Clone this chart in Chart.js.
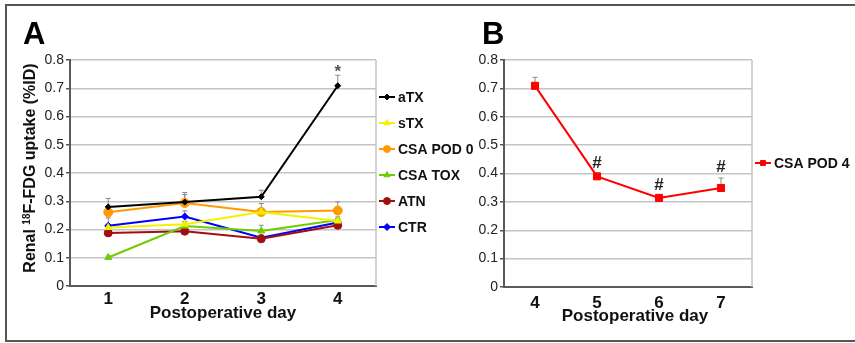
<!DOCTYPE html>
<html><head><meta charset="utf-8">
<script src="https://cdn.jsdelivr.net/npm/chart.js@4/dist/chart.umd.min.js"></script>
<style>
html,body{margin:0;padding:0;background:#fff;}
#wrap{position:relative;width:855px;height:343px;overflow:hidden;background:#fff;}
#frame{position:absolute;left:5px;top:4px;width:900px;height:338px;border:2px solid #555;box-sizing:border-box;}
canvas{position:absolute;left:0;top:0;}
</style></head>
<body>
<div id="wrap">
<div id="frame"></div>
<canvas id="cA" width="855" height="343"></canvas>
<canvas id="cB" width="855" height="343"></canvas>
</div>
<script>
// ---------- data ----------
const daysA = ['1','2','3','4'];
const daysB = ['4','5','6','7'];
const seriesNames = ['aTX','sTX','CSA POD 0','CSA TOX','ATN','CTR'];
const aTX     = [0.280, 0.297, 0.316, 0.709];
const sTX     = [0.207, 0.219, 0.262, 0.230];
const csaPod0 = [0.261, 0.294, 0.262, 0.267];
const csaTox  = [0.101, 0.212, 0.195, 0.234];
const atn     = [0.188, 0.194, 0.167, 0.215];
const ctr     = [0.213, 0.246, 0.171, 0.225];
const aTXErr     = [0.030, 0.034, 0.023, 0.037];
const sTXErr     = [0.010, 0.010, 0.010, 0.010];
const csaPod0Err = [0.020, 0.030, 0.030, 0.031];
const csaToxErr  = [0.005, 0.015, 0.020, 0.010];
const atnErr     = [0.010, 0.010, 0.010, 0.010];
const ctrErr     = [0.028, 0.020, 0.010, 0.010];
const marksA = ['', '', '', '*'];
const csaPod4    = [0.709, 0.390, 0.314, 0.349];
const csaPod4Err = [0.030, 0.010, 0.005, 0.035];
const marksB = ['', '#', '#', '#'];
const yTickStep = 0.1, yMin = 0, yMax = 0.8;

const FONT = 'Liberation Sans, Arial, Helvetica, sans-serif';
Chart.defaults.font.family = FONT;

function ds(label, data, err, color, style, r, marks){
  return {label, data, err, marks: marks||null, borderColor:color, backgroundColor:color,
    pointStyle:style, pointRadius:r, pointBorderWidth:1, borderWidth:2, tension:0, clip:false};
}

const errPlugin = {
  id:'errbars',
  beforeDatasetsDraw(chart){
    const ctx = chart.ctx, y = chart.scales.y;
    ctx.save();
    ctx.strokeStyle = '#8a8a8a'; ctx.lineWidth = 1;
    chart.data.datasets.forEach((d,i)=>{
      const meta = chart.getDatasetMeta(i);
      meta.data.forEach((pt,j)=>{
        const e = d.err[j]; if(!e) return;
        const yt = y.getPixelForValue(d.data[j]+e);
        ctx.beginPath();
        ctx.moveTo(pt.x, pt.y); ctx.lineTo(pt.x, yt);
        ctx.moveTo(pt.x-2.5, yt); ctx.lineTo(pt.x+2.5, yt);
        ctx.stroke();
      });
    });
    ctx.restore();
  },
  afterDatasetsDraw(chart){
    const ctx = chart.ctx, y = chart.scales.y;
    ctx.save();
    ctx.fillStyle = '#222'; ctx.textAlign='center'; ctx.textBaseline='alphabetic';
    chart.data.datasets.forEach((d,i)=>{
      if(!d.marks) return;
      const meta = chart.getDatasetMeta(i);
      meta.data.forEach((pt,j)=>{
        const m = d.marks[j]; if(!m) return;
        const yt = y.getPixelForValue(d.data[j]+d.err[j]);
        if(m==='*'){ ctx.font = 'bold 17px '+FONT; ctx.fillStyle='#555'; ctx.fillText(m, pt.x, yt+2); }
        else { ctx.font = 'bold 17px '+FONT; ctx.fillStyle='#222'; ctx.fillText(m, pt.x, yt-6); }
      });
    });
    ctx.restore();
  }
};

function decoPlugin(cfg){
  return {
    id:'deco'+cfg.letter,
    afterDraw(chart){
      const ctx = chart.ctx, a = chart.chartArea;
      ctx.save();
      // right border of plot
      ctx.strokeStyle = '#c4c4c4'; ctx.lineWidth = 1.5;
      ctx.beginPath(); ctx.moveTo(a.right, a.top); ctx.lineTo(a.right, a.bottom); ctx.stroke();
      // panel letter
      ctx.fillStyle = '#000'; ctx.font = 'bold 31px '+FONT; ctx.textAlign='left'; ctx.textBaseline='alphabetic';
      ctx.fillText(cfg.letter, cfg.letterX, 44);
      // x title
      ctx.font = 'bold 17px '+FONT; ctx.textAlign='center'; ctx.fillStyle='#111';
      ctx.fillText('Postoperative day', cfg.xTitleX, cfg.xTitleY);
      // y title
      if(cfg.yTitle){
        ctx.save();
        ctx.translate(31, 168); ctx.rotate(-Math.PI/2);
        ctx.textAlign='left'; ctx.textBaseline='middle';
        const big = 'bold 16px '+FONT, small = 'bold 10px '+FONT;
        const p1 = 'Renal ', p2 = '18', p3 = 'F-FDG uptake (%ID)';
        ctx.font = big; const w1 = ctx.measureText(p1).width, w3 = ctx.measureText(p3).width;
        ctx.font = small; const w2 = ctx.measureText(p2).width;
        let x = -(w1+w2+w3)/2;
        ctx.font = big; ctx.fillText(p1, x, 0); x += w1;
        ctx.font = small; ctx.fillText(p2, x, -4); x += w2;
        ctx.font = big; ctx.fillText(p3, x, 0);
        ctx.restore();
      }
      // legend
      ctx.textAlign='left'; ctx.textBaseline='middle'; ctx.font='bold 14px '+FONT;
      chart.data.datasets.forEach((d,i)=>{
        const yy = cfg.legY + i*cfg.legStep, x0 = cfg.legX;
        ctx.strokeStyle = d.borderColor; ctx.lineWidth = 2;
        ctx.beginPath(); ctx.moveTo(x0, yy); ctx.lineTo(x0+16, yy); ctx.stroke();
        ctx.fillStyle = d.backgroundColor; ctx.strokeStyle = d.borderColor; ctx.lineWidth=1;
        Chart.helpers.drawPoint(ctx, {pointStyle:d.pointStyle, radius:Math.min(d.pointRadius,3.5), rotation:0, borderWidth:1}, x0+8, yy);
        ctx.fillStyle = '#111';
        ctx.fillText(d.label, x0+19, yy+1);
      });
      ctx.restore();
    }
  };
}

function baseOptions(padLeftAxis, padRight, xPad){
  return {
    responsive:false, animation:false, devicePixelRatio:1, events:[],
    layout:{padding:{left:0, top:60, right:padRight, bottom:0}},
    plugins:{legend:{display:false}, tooltip:{enabled:false}},
    scales:{
      x:{ offset:true,
          grid:{display:false, drawTicks:false},
          border:{color:'#5a5a5a', width:2},
          ticks:{font:{size:17, weight:'bold'}, color:'#111', padding:xPad},
          afterFit(s){ s.height = 57; } },
      y:{ min:yMin, max:yMax,
          ticks:{stepSize:yTickStep, font:{size:14}, color:'#222', padding:2},
          grid:{color:'#c4c4c4', lineWidth:1.5, tickColor:'#555', tickLength:4},
          border:{color:'#5a5a5a', width:2},
          afterFit(s){ s.width = padLeftAxis; } }
    }
  };
}

new Chart(document.getElementById('cA'), {
  type:'line',
  data:{labels:daysA, datasets:[
    ds(seriesNames[0], aTX, aTXErr, '#000000', 'rectRot', 3, marksA),
    ds(seriesNames[1], sTX, sTXErr, '#f2f200', 'triangle', 4),
    ds(seriesNames[2], csaPod0, csaPod0Err, '#ff9a00', 'circle', 4.5),
    ds(seriesNames[3], csaTox, csaToxErr, '#6fcc00', 'triangle', 4),
    ds(seriesNames[4], atn, atnErr, '#a01010', 'circle', 4),
    ds(seriesNames[5], ctr, ctrErr, '#0000ff', 'rectRot', 3.5)
  ]},
  options: baseOptions(70, 479, 3),
  plugins:[errPlugin, decoPlugin({letter:'A', letterX:23, xTitleX:223, xTitleY:318, yTitle:true, legX:379, legY:97, legStep:26})]
});

new Chart(document.getElementById('cB'), {
  type:'line',
  data:{labels:daysB, datasets:[
    ds('CSA POD 4', csaPod4, csaPod4Err, '#ff0000', 'rect', 5, marksB)
  ]},
  options: (()=>{ const o = baseOptions(504, 103, 6); o.layout.padding.bottom = 0; o.scales.x.afterFit = s=>{s.height=56;}; return o; })(),
  plugins:[errPlugin, decoPlugin({letter:'B', letterX:482, xTitleX:635, xTitleY:321, yTitle:false, legX:755, legY:163, legStep:26})]
});
</script>
</body></html>
